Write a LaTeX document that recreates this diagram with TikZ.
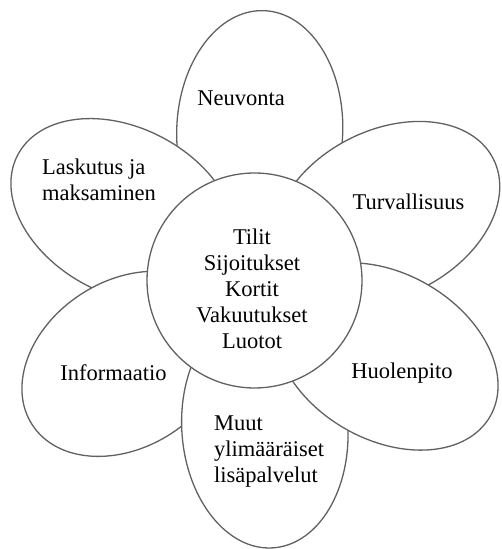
\documentclass[tikz,border=0pt]{standalone}
\usepackage{fontspec}
\setmainfont{Liberation Serif}
\usetikzlibrary{calc}
\begin{document}
\begin{tikzpicture}[x=1pt,y=1pt,
  petal/.style={draw=black!62,line width=1.3pt,fill=white},
  lbl/.style={inner sep=0pt,font=\fontsize{22.5}{26}\selectfont,text=black},
  lblblock/.style={lbl,align=left},
  hub/.style={circle,draw=black!62,line width=1.3pt,fill=white,minimum size=215pt,inner sep=0pt}]
\useasboundingbox (0,0) rectangle (502,549);
\coordinate (c) at (254.5,268.5);
% petals (drawn in stacking order)
\draw[petal] ($(c)+(88:150pt)$) ellipse[x radius=120pt,y radius=83pt,rotate=88];
\draw[petal] ($(c)+(152:148pt)$) ellipse[x radius=120pt,y radius=83pt,rotate=152];
\draw[petal] ($(c)+(27:148pt)$) ellipse[x radius=120pt,y radius=83pt,rotate=27];
\draw[petal] ($(c)+(213:153pt)$) ellipse[x radius=112pt,y radius=83pt,rotate=213];
\draw[petal] ($(c)+(-86:148pt)$) ellipse[x radius=120pt,y radius=83pt,rotate=-86];
\draw[petal] ($(c)+(-30:152pt)$) ellipse[x radius=120pt,y radius=83pt,rotate=-30];
\node[hub] (hubc) at (c) {};
% labels
\node[lbl] (neuv) at (241,451) {Neuvonta};
\node[lblblock,anchor=west] (lask) at (42,369) {Laskutus ja\\maksaminen};
\node[lbl] (turv) at (408.5,347) {Turvallisuus};
\node[lbl,align=center] (core) at (252,260) {Tilit\\Sijoitukset\\Kortit\\Vakuutukset\\Luotot};
\node[lbl] (info) at (113.5,176) {Informaatio};
\node[lbl] (huol) at (402,176) {Huolenpito};
\node[lblblock,anchor=west] (muut) at (214,97) {Muut\\ylimääräiset\\lisäpalvelut};
\end{tikzpicture}
\end{document}
